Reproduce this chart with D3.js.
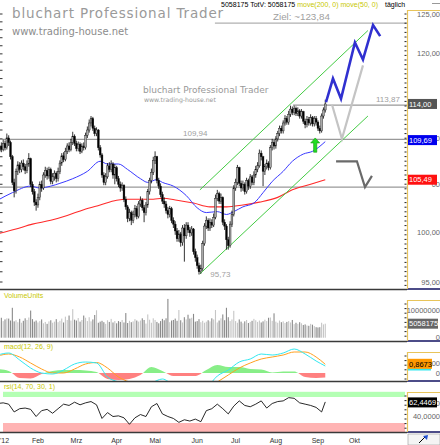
<!DOCTYPE html>
<html>
<head>
<meta charset="utf-8">
<script src="https://cdn.jsdelivr.net/npm/d3@7"></script>
<style>
body { margin: 0; background: #fff; }
svg { display: block; }
text { font-family: "Liberation Sans", Arial, sans-serif; }
</style>
</head>
<body>
<svg width="440" height="445"></svg>
<script>
// tagesdaten 2012 (handelstage ab 2. Jan.), aus dem bild geschaetzt
const closes = [108.6,109.2,108.8,109.5,109.0,110.1,109.6,108.0,105.2,104.3,106.4,107.1,106.6,107.3,106.9,106.5,107.2,107.8,105.0,104.2,103.1,102.8,
  103.6,105.0,104.6,106.0,106.5,105.9,106.6,105.3,105.8,106.2,105.6,106.4,107.3,108.1,107.7,108.6,109.2,108.8,109.6,110.3,109.5,
  108.9,109.4,108.6,109.2,109.0,110.4,111.0,111.8,112.3,111.2,110.6,111.0,109.0,108.2,106.0,105.2,105.8,107.0,106.6,107.2,106.0,106.8,
  105.6,105.0,104.6,104.9,103.4,102.6,101.4,102.0,101.2,101.8,102.4,101.6,102.9,103.3,102.5,102.0,102.8,104.2,105.4,106.3,107.6,
  108.0,105.4,104.8,103.9,103.2,102.9,102.2,101.8,102.4,101.2,100.8,100.1,99.3,99.8,98.9,100.4,99.6,100.7,100.2,99.9,100.3,98.0,97.4,
  96.6,96.0,96.3,98.8,100.6,101.2,100.4,101.0,100.7,101.5,103.5,104.0,103.2,103.6,101.0,100.6,99.2,98.6,100.8,101.8,104.6,
  105.2,106.8,105.1,104.6,105.0,104.2,105.4,104.8,105.8,105.2,106.0,106.6,107.0,108.4,108.0,106.4,106.9,107.3,106.8,109.0,109.6,109.2,
  110.0,110.6,111.2,110.9,111.8,112.3,111.9,112.8,113.4,113.0,113.5,112.9,113.2,112.6,113.1,112.0,111.6,112.2,111.8,112.4,111.7,112.3,111.9,
  111.2,110.9,112.6,113.3,114.0];
const highs = [108.9,109.5,109.6,109.9,109.8,110.6,110.4,109.8,108.2,105.6,106.7,107.5,107.4,107.6,107.7,107.2,107.6,108.4,107.9,105.3,104.5,103.4,
  104.0,105.3,105.4,106.3,106.9,106.8,106.9,106.8,106.2,106.5,106.4,106.8,107.6,108.4,108.5,109.0,109.5,109.6,110.0,110.8,110.5,
  109.8,109.7,109.6,109.5,109.6,110.7,111.4,112.2,112.6,112.5,111.5,111.3,111.1,109.3,108.4,106.3,106.2,107.3,107.4,107.6,107.4,107.2,
  107.0,105.9,105.3,105.2,105.0,103.7,102.8,102.4,102.2,102.2,102.8,102.7,103.2,103.7,103.5,102.8,103.1,104.5,105.7,106.7,108.0,
  108.6,108.1,105.7,105.1,104.2,103.6,103.2,102.6,102.7,102.6,101.5,101.1,100.4,100.2,100.0,100.7,100.8,101.0,101.0,100.5,100.6,100.4,98.3,
  97.7,96.9,96.7,99.1,100.9,101.6,101.4,101.4,101.3,101.9,103.9,104.4,104.2,104.0,103.7,101.3,100.8,99.5,101.1,102.2,104.9,
  105.6,107.1,106.9,105.4,105.4,105.2,105.7,105.6,106.1,106.0,106.4,107.0,107.4,108.8,108.7,108.1,107.2,107.7,107.5,109.3,110.0,109.9,
  110.3,110.9,111.5,111.5,112.1,112.7,112.6,113.2,113.8,113.7,113.8,113.7,113.6,113.4,113.4,113.2,112.3,112.6,112.5,112.8,112.6,112.6,112.6,
  112.1,111.5,112.9,113.6,114.5];
const lows = [107.9,108.3,108.5,108.6,108.7,108.8,109.2,107.7,104.9,103.6,104.0,106.0,106.2,106.3,106.5,106.1,106.2,106.9,104.7,103.9,102.7,102.2,
  102.5,103.3,104.2,104.4,105.7,105.5,105.6,105.0,105.0,105.4,105.2,105.3,106.1,107.0,107.4,107.5,108.3,108.5,108.6,109.3,109.2,
  108.6,108.6,108.3,108.4,108.7,108.8,110.1,110.7,111.4,110.9,110.3,110.3,108.7,107.9,105.7,104.9,104.9,105.6,106.3,106.3,105.6,105.0,
  105.3,104.7,104.2,104.3,103.1,102.3,101.0,101.1,100.7,100.9,101.5,101.3,101.4,102.6,102.2,101.0,101.7,102.5,103.9,105.1,106.0,
  107.2,105.1,104.5,103.6,102.9,102.5,101.9,101.4,101.5,100.9,100.4,99.7,99.0,99.0,98.5,98.6,97.0,99.3,99.9,99.5,99.6,97.7,97.0,
  96.3,95.73,95.8,96.1,98.6,100.3,100.1,100.1,100.4,100.5,101.3,103.2,102.9,102.9,100.7,100.2,98.2,98.2,98.4,100.5,101.6,
  104.3,104.9,104.8,104.2,104.3,103.9,104.0,104.4,104.5,104.9,104.9,105.7,106.3,106.8,107.6,104.8,106.0,106.6,106.5,106.6,108.7,108.8,
  108.9,109.7,110.3,110.6,110.6,111.5,111.6,111.6,112.5,112.7,112.7,112.6,112.6,112.3,112.3,111.7,111.2,111.3,111.5,111.5,111.4,111.4,111.5,
  110.9,110.6,110.7,112.3,113.0];
const firstOpen = 108.2;
// volumen in mio. stueck
const volumes = [6.5,5.8,7.2,6.0,6.6,7.0,6.9,6.2,10.8,5.9,6.3,5.6,6.8,5.4,6.1,7.0,6.4,7.3,9.8,6.7,5.8,6.2,
  5.5,6.0,6.6,5.2,5.7,5.0,5.9,6.3,5.4,5.8,6.7,5.6,6.1,6.9,5.5,7.6,6.4,8.0,6.2,10.3,6.5,
  6.2,7.1,5.8,6.4,8.0,7.2,6.0,7.4,5.9,6.6,8.2,9.9,5.4,5.8,6.1,5.6,5.0,6.3,5.7,6.8,5.5,6.0,
  5.2,6.0,5.7,6.4,5.5,8.9,5.3,6.1,5.6,5.9,6.7,6.2,5.8,6.2,7.0,6.4,5.1,8.4,6.5,5.4,7.0,
  6.4,5.7,5.2,6.0,6.8,6.3,7.0,14.0,5.6,6.2,6.4,6.9,6.1,10.0,6.3,5.5,7.4,6.6,8.3,6.9,7.2,8.6,5.8,
  6.0,6.7,5.6,6.1,5.4,5.8,6.3,5.9,7.0,6.6,10.0,5.5,6.2,7.0,8.4,6.3,10.8,7.4,6.0,6.6,9.7,
  6.0,5.4,6.6,5.8,5.2,5.9,6.4,5.3,5.7,6.1,6.8,6.3,5.7,6.2,5.5,5.9,6.5,6.0,7.2,7.3,6.1,8.8,
  5.8,5.4,6.2,5.6,5.9,5.3,5.7,6.0,5.5,6.4,4.9,5.4,5.0,5.6,5.2,4.6,4.8,4.4,4.3,5.0,4.7,4.2,3.8,
  3.7,3.8,5.4,4.8,5.058175];

// gleitende durchschnitte [handelstag, kurs]
const ma50Idx = [0,8,18,23,29,34,41,49,56,60,66,71,78,82,87,90,96,103,109,114,120,125,129,134,140,145,150,156,161,167,172,179];
const ma50 = [103.3,104.1,104.8,104.6,104.8,105.1,105.6,106.4,107.5,107.2,107.2,106.6,105.6,105.2,105.5,105.2,104.8,103.8,102.5,102.0,102.1,101.8,102.1,102.6,103.0,104.1,105.3,106.4,107.5,108.3,108.6,109.69];
const ma200Idx = [0,10,19,29,38,47,56,65,71,78,85,90,98,107,116,125,134,143,153,161,171,179];
const ma200 = [99.8,100.3,100.8,101.2,101.7,102.3,102.8,103.3,103.4,103.4,103.4,103.5,103.3,103.0,102.6,102.6,102.8,103.1,103.6,104.4,105.0,105.49];

// trendkanal und projektion
const channelUpper = [[110.5, 104.4], [202.3, 122.9]];
const channelLower = [[110.5, 95.8], [202.3, 112.6]];
const projBlue = [[179.4,114.2],[183.2,117.0],[187.6,114.6],[195.2,121.4],[199.6,119.3],[205.1,123.6],[209.0,122.2]];
const projLight = [[182.7,113.9],[188.1,110.0],[199.6,118.6]];
const projDark = [[184.9,107.5],[196.3,107.5],[200.7,104.7],[204.5,105.9]];
const levels = [
  {v: 123.84, from: 118.7, label: "Ziel: ~123,84"},
  {v: 113.87, from: 161.4, label: "113,87"},
  {v: 109.94, from: 0, label: "109,94"},
  {v: 104.7, from: 0, label: ""}
];
const lowMark = {i: 116.2, v: 95.73, label: "95,73"};
const arrowAt = {i: 173.5, from: 108.5, to: 110.1};

// indikatoren
const macdIdx = [0,6,12,18,24,30,36,42,48,54,60,66,72,78,84,90,96,102,108,114,120,126,132,138,144,150,156,162,168,174,179];
const macd = [1.8,2.0,1.3,0.5,0.0,-0.1,0.3,0.9,1.1,1.0,-0.4,-0.9,-1.3,-1.4,-1.0,-0.6,-1.2,-1.6,-1.9,-1.5,-0.3,0.3,1.1,1.4,1.9,1.8,2.0,2.4,1.9,1.2,0.7];
const signal = [1.7,1.9,1.6,1.0,0.4,0.0,0.0,0.4,0.9,1.05,0.5,-0.4,-0.9,-1.2,-1.2,-0.9,-1.0,-1.3,-1.6,-1.6,-0.9,-0.2,0.5,1.0,1.4,1.6,1.8,2.1,2.1,1.6,0.87];
const hist = [0.4,0.2,-0.5,-0.55,-0.1,0.2,0.3,0.3,0.25,0.1,-0.6,-0.7,-0.6,-0.2,0.6,0.2,-0.3,-0.3,-0.3,0.3,0.8,0.6,0.6,0.4,0.35,0.05,0.15,0.15,-0.4,-0.5,-0.45];
const rsiIdx = d3.range(0, 180, 3).concat([179]);
const rsi = [60,61,59,47,52,53,51,40,49,51,45,52,59,57,62,58,61,63,58,37,46,40,41,38,28,38,43,40,55,60,
  44,40,37,31,35,33,36,32,49,52,59,52,44,56,64,57,55,59,64,53,60,63,64,69,68,61,59,57,54,47,62.45];

const monthIdx = [0,22,43,65,86,109,130,152,175,195];
const monthLabels = ["'12","Feb","Mrz","Apr","Mai","Jun","Jul","Aug","Sep","Okt"];
const priceTicks = [125,120,110,105,100,95];

const svg = d3.select("svg");
const axisX = 407;

const x = d3.scaleLinear().domain([0, 222]).range([-2.3, 403.96]);
const y = d3.scaleLog().domain([95, 125]).range([282, 14]);
const yVol = d3.scaleLinear().domain([0, 10]).range([337.7, 310]);
const yMacd = d3.scaleLinear().domain([0, 1]).range([373, 363]);
const yRsi = d3.scaleLinear().domain([30, 70]).range([423, 397]);

const defs = svg.append("defs");
function clip(id, y0, h) {
  defs.append("clipPath").attr("id", id).append("rect")
    .attr("x", 0).attr("y", y0).attr("width", axisX).attr("height", h);
}
clip("cMain", 0, 289);
clip("cVol", 290, 51);
clip("cMacd", 342, 39);
clip("cRsi", 382, 50);
defs.append("clipPath").attr("id", "cAbove").append("rect")
  .attr("x", 0).attr("y", 342).attr("width", axisX).attr("height", yMacd(0) - 342);
defs.append("clipPath").attr("id", "cBelow").append("rect")
  .attr("x", 0).attr("y", yMacd(0)).attr("width", axisX).attr("height", 381 - yMacd(0));

const candles = closes.map((c, i) => ({
  i: i, o: i ? closes[i - 1] : firstOpen, h: highs[i], l: lows[i], c: c, vol: volumes[i]
}));

// ---------- hauptchart ----------
const main = svg.append("g").attr("clip-path", "url(#cMain)");

main.append("text").attr("x", 12).attr("y", 18)
  .style("font-family", "'DejaVu Sans', sans-serif").style("font-size", "13.5px")
  .style("letter-spacing", "0.85px").attr("fill", "#9a9a9a")
  .text("bluchart Professional Trader");
main.append("text").attr("x", 12).attr("y", 35)
  .style("font-family", "'DejaVu Sans', sans-serif").style("font-size", "10px")
  .attr("fill", "#8c8c8c").text("www.trading-house.net");
main.append("text").attr("x", 143).attr("y", 93)
  .style("font-family", "'DejaVu Sans', sans-serif").style("font-size", "9px")
  .attr("fill", "#999").text("bluchart Professional Trader");
main.append("text").attr("x", 144).attr("y", 102)
  .style("font-family", "'DejaVu Sans', sans-serif").style("font-size", "6.2px")
  .attr("fill", "#999").text("www.trading-house.net");

// linke skalenstriche
main.selectAll("line.lt").data(d3.range(95, 126)).enter().append("line")
  .attr("x1", 0).attr("x2", 2.5).attr("y1", d => y(d)).attr("y2", d => y(d))
  .attr("stroke", "#333").attr("stroke-width", 1);

// horizontale marken
main.selectAll("line.lvl").data(levels).enter().append("line")
  .attr("x1", d => Math.max(0, x(d.from))).attr("x2", axisX)
  .attr("y1", d => y(d.v)).attr("y2", d => y(d.v))
  .attr("stroke", (d, i) => i === 0 ? "#b0b0b0" : "#999").attr("stroke-width", 1.3);

const line = d3.line().x(d => x(d[0])).y(d => y(d[1]));
const smooth = d3.line().x(d => x(d[0])).y(d => y(d[1])).curve(d3.curveMonotoneX);

main.append("path").attr("d", smooth(ma200Idx.map((d, k) => [d, ma200[k]])))
  .attr("fill", "none").attr("stroke", "#ff2a2a").attr("stroke-width", 1.1);
main.append("path").attr("d", smooth(ma50Idx.map((d, k) => [d, ma50[k]])))
  .attr("fill", "none").attr("stroke", "#3a3aff").attr("stroke-width", 1);

[channelUpper, channelLower].forEach(c => {
  main.append("path").attr("d", line(c))
    .attr("fill", "none").attr("stroke", "#44cc44").attr("stroke-width", 1);
});

// kerzen
const cg = main.append("g");
cg.selectAll("line").data(candles).enter().append("line")
  .attr("x1", d => x(d.i)).attr("x2", d => x(d.i))
  .attr("y1", d => y(d.h)).attr("y2", d => y(d.l))
  .attr("stroke", "#000").attr("stroke-width", 0.8);
cg.selectAll("rect").data(candles).enter().append("rect")
  .attr("x", d => x(d.i) - 0.9).attr("width", 1.8)
  .attr("y", d => y(Math.max(d.o, d.c)))
  .attr("height", d => Math.max(1, Math.abs(y(d.o) - y(d.c))))
  .attr("fill", d => d.c >= d.o ? "#a8a8a8" : "#000")
  .attr("stroke", "#111").attr("stroke-width", 0.4);

// projektion
main.append("path").attr("d", line(projLight))
  .attr("fill", "none").attr("stroke", "#c4c4c4").attr("stroke-width", 2.2);
main.append("path").attr("d", line(projDark))
  .attr("fill", "none").attr("stroke", "#6a6a6a").attr("stroke-width", 2.2);
main.append("path").attr("d", line(projBlue))
  .attr("fill", "none").attr("stroke", "#3030d0").attr("stroke-width", 2.6)
  .attr("stroke-linejoin", "miter");

// gruener pfeil
const ax = x(arrowAt.i), ay0 = y(arrowAt.from), ay1 = y(arrowAt.to);
main.append("path")
  .attr("d", `M${ax - 1.6},${ay0} L${ax - 1.6},${ay1 + 5} L${ax - 4.5},${ay1 + 5} L${ax},${ay1} L${ax + 4.5},${ay1 + 5} L${ax + 1.6},${ay1 + 5} L${ax + 1.6},${ay0} Z`)
  .attr("fill", "#22dd22").attr("stroke", "#119911").attr("stroke-width", 0.6);

// beschriftungen
main.selectAll("text.lv").data(levels.filter(d => d.label)).enter().append("text")
  .attr("x", (d, i) => [273, 376, 183][i])
  .attr("y", d => y(d.v) - 3.5)
  .style("font-size", (d, i) => i === 0 ? "9.8px" : "8px")
  .attr("fill", "#a0a0a0").text(d => d.label);
main.append("text").attr("x", x(lowMark.i)).attr("y", y(lowMark.v) + 2)
  .style("font-size", "8px").attr("fill", "#a0a0a0").text(lowMark.label);

// kopfzeile
const hdr = svg.append("text").attr("x", 221).attr("y", 7).style("font-size", "7px").attr("fill", "#000")
  .attr("textLength", 157).attr("lengthAdjust", "spacingAndGlyphs");
hdr.append("tspan").text("5058175 TotV: 5058175 ");
hdr.append("tspan").attr("fill", "#c8c800").text("move(200, 0) move(50, 0)");
svg.append("text").attr("x", 385).attr("y", 7).style("font-size", "7px").attr("fill", "#000").text("täglich");
svg.append("line").attr("x1", 432).attr("x2", 440).attr("y1", 3.5).attr("y2", 3.5).attr("stroke", "#999");

// ---------- volumen ----------
const vol = svg.append("g").attr("clip-path", "url(#cVol)");
vol.selectAll("rect").data(candles).enter().append("rect")
  .attr("x", d => x(d.i) - 0.55).attr("width", 1.1)
  .attr("y", d => yVol(d.vol)).attr("height", d => yVol(0) - yVol(d.vol))
  .attr("fill", d => d.c >= d.o ? "#c6c6c6" : "#8a8a8a");
svg.append("text").attr("x", 4).attr("y", 297.5).style("font-size", "7px").attr("fill", "#c8c800").text("VolumeUnits");

// ---------- macd ----------
const mg = svg.append("g").attr("clip-path", "url(#cMacd)");
const hArea = d3.area().x(d => x(d[0])).y0(yMacd(0)).y1(d => yMacd(d[1])).curve(d3.curveMonotoneX);
const hData = macdIdx.map((d, k) => [d, hist[k]]);
mg.append("g").attr("clip-path", "url(#cAbove)").append("path").attr("d", hArea(hData)).attr("fill", "#88ee88");
mg.append("g").attr("clip-path", "url(#cBelow)").append("path").attr("d", hArea(hData)).attr("fill", "#ff8080");
const mLine = d3.line().x(d => x(d[0])).y(d => yMacd(d[1])).curve(d3.curveMonotoneX);
mg.append("path").attr("d", mLine(macdIdx.map((d, k) => [d, signal[k]])))
  .attr("fill", "none").attr("stroke", "#ffa020").attr("stroke-width", 1);
mg.append("path").attr("d", mLine(macdIdx.map((d, k) => [d, macd[k]])))
  .attr("fill", "none").attr("stroke", "#33e8f0").attr("stroke-width", 1);
svg.append("text").attr("x", 4).attr("y", 349).style("font-size", "7px").attr("fill", "#c8c800").text("macd(12, 26, 9)");

// ---------- rsi ----------
const rg = svg.append("g").attr("clip-path", "url(#cRsi)");
rg.append("rect").attr("x", 3).attr("width", 402).attr("y", yRsi(78)).attr("height", yRsi(70) - yRsi(78)).attr("fill", "#b4ffb4");
rg.append("rect").attr("x", 3).attr("width", 402).attr("y", yRsi(30)).attr("height", 433 - yRsi(30)).attr("fill", "#ffb4b4");
rg.append("path").attr("d", d3.line().x(d => x(d[0])).y(d => yRsi(d[1]))(rsiIdx.map((d, k) => [d, rsi[k]])))
  .attr("fill", "none").attr("stroke", "#111").attr("stroke-width", 0.9);
svg.append("text").attr("x", 4).attr("y", 388.5).style("font-size", "7px").attr("fill", "#c8c800").text("rsi(14, 70, 30, 1)");

// ---------- rahmen und skalen ----------
const sep = [289.5, 341.5, 381.5, 432.5];
svg.selectAll("line.sep").data(sep).enter().append("line")
  .attr("x1", 0).attr("x2", axisX).attr("y1", d => d).attr("y2", d => d)
  .attr("stroke", "#3a3a3a").attr("stroke-width", 1.6);
svg.selectAll("line.sepr").data(sep).enter().append("line")
  .attr("x1", axisX).attr("x2", 440).attr("y1", d => d - 0.5).attr("y2", d => d - 0.5)
  .attr("stroke", "#101060").attr("stroke-width", 1.6);
const boxes = [[10, 289], [300, 341], [352, 381], [392, 432]];
boxes.forEach(b => {
  svg.append("path").attr("d", `M440,${b[0] + 0.5} L${axisX + 0.5},${b[0] + 0.5} L${axisX + 0.5},${b[1]}`)
    .attr("fill", "none").attr("stroke", "#e8c45a").attr("stroke-width", 1.2);
  svg.selectAll(null).data(d3.range(b[0] + 4, b[1] - 1, 4.6)).enter().append("line")
    .attr("x1", 404.5).attr("x2", 406.5).attr("y1", d => d).attr("y2", d => d)
    .attr("stroke", "#222").attr("stroke-width", 1);
});

const axisFont = "7.5px", axisCol = "#666";
// skalenwerte, die von den wertkaesten verdeckt werden, wie im original nur angeschnitten
const hiddenTicks = [110, 105];
svg.selectAll("text.pt").data(priceTicks).enter().append("text")
  .attr("x", 440).attr("y", d => y(d) + 2.6).attr("text-anchor", "end")
  .style("font-size", axisFont).attr("fill", axisCol)
  .text(d => hiddenTicks.includes(d) ? "00" : d3.format(".2f")(d).replace(".", ","));

function valueBox(yc, txt, fill, color, w) {
  svg.append("rect").attr("x", 408).attr("y", yc - 5).attr("width", w).attr("height", 10).attr("fill", fill);
  svg.append("text").attr("x", 409).attr("y", yc + 2.7).style("font-size", "7.5px").attr("fill", color).text(txt);
}
valueBox(y(closes[closes.length - 1]), "114,00", "#555", "#fff", 29);
valueBox(y(ma50[ma50.length - 1]) - 1.5, "109,69", "#0000ee", "#fff", 29);
valueBox(y(ma200[ma200.length - 1]), "105,49", "#ff1010", "#fff", 29);

svg.append("text").attr("x", 440).attr("y", yVol(10) + 2.6).attr("text-anchor", "end")
  .style("font-size", axisFont).attr("fill", axisCol).text("10000000");
svg.append("text").attr("x", 440).attr("y", yVol(0) + 2).attr("text-anchor", "end")
  .style("font-size", axisFont).attr("fill", axisCol).text("0");
valueBox(yVol(volumes[volumes.length - 1]), "5058175", "#666", "#fff", 30);

svg.append("text").attr("x", 440).attr("y", yMacd(1) + 2.6).attr("text-anchor", "end")
  .style("font-size", axisFont).attr("fill", axisCol).text("000");
svg.append("text").attr("x", 440).attr("y", yMacd(0) + 2.6).attr("text-anchor", "end")
  .style("font-size", axisFont).attr("fill", axisCol).text("0");
svg.append("rect").attr("x", 408).attr("y", yMacd(signal[signal.length - 1]) + 4).attr("width", 23).attr("height", 2.2).attr("fill", "#33e8f0");
valueBox(yMacd(signal[signal.length - 1]) - 0.5, "0,8673", "#ff9900", "#000", 24);

svg.append("text").attr("x", 440).attr("y", yRsi(60) + 2.6).attr("text-anchor", "end")
  .style("font-size", axisFont).attr("fill", axisCol).text("00");
svg.append("text").attr("x", 440).attr("y", yRsi(40) + 2.6).attr("text-anchor", "end")
  .style("font-size", axisFont).attr("fill", axisCol).text("40,0000");
valueBox(yRsi(rsi[rsi.length - 1]) + 0.5, "62,4469", "#000", "#fff", 29);

// zeitachse
svg.selectAll("text.mo").data(monthIdx).enter().append("text")
  .attr("x", (d, k) => k === 0 ? 0 : x(d))
  .attr("y", 443).attr("text-anchor", (d, k) => k === 0 ? "start" : "middle")
  .style("font-size", "7px").attr("fill", "#333")
  .text((d, k) => monthLabels[k]);

// knopf unten rechts
svg.append("rect").attr("x", 408).attr("y", 434).attr("width", 32).attr("height", 11)
  .attr("fill", "#f4f4f4").attr("stroke", "#999").attr("stroke-width", 0.6);
svg.append("path").attr("d", "M419,443 L425,437").attr("stroke", "#000").attr("stroke-width", 1);
svg.append("path").attr("d", "M423,436 L428,435 L427,440 Z").attr("fill", "#2050d0");
</script>
</body>
</html>
